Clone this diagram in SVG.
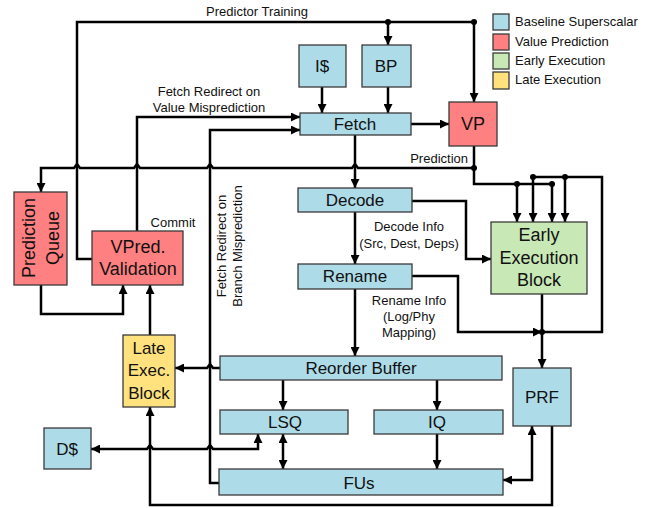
<svg xmlns="http://www.w3.org/2000/svg" width="656" height="508" viewBox="0 0 656 508">
<defs>
<style>
text{font-family:"Liberation Sans",Arial,sans-serif;fill:#111}
.box{stroke:#3a3a3a;stroke-width:1.3}
.base{fill:#ADDBE8}
.vp{fill:#FF8080}
.ee{fill:#C8E8B6}
.le{fill:#FFE27E}
.lbl{font-size:17px;text-anchor:middle;dominant-baseline:central}
.big{font-size:18px;text-anchor:middle;dominant-baseline:central}
.sm{font-size:13px}
.mid{text-anchor:middle}
.wire{fill:none;stroke:#000;stroke-width:2.5}
.dot{fill:#000}
</style>
<marker id="arr" viewBox="0 0 10 10" refX="10" refY="5" markerWidth="11" markerHeight="9" markerUnits="userSpaceOnUse" orient="auto-start-reverse">
<path d="M0,0 L10,5 L0,10 z" fill="#000"/>
</marker>
</defs>
<rect width="656" height="508" fill="#fff"/>

<g id="legend">
<rect class="box base" x="493" y="14" width="16" height="16"/>
<rect class="box vp" x="493" y="34" width="16" height="16"/>
<rect class="box ee" x="493" y="53" width="16" height="16"/>
<rect class="box le" x="493" y="72" width="16" height="17"/>
<text class="sm" x="515" y="26">Baseline Superscalar</text>
<text class="sm" x="515" y="46">Value Prediction</text>
<text class="sm" x="515" y="65">Early Execution</text>
<text class="sm" x="515" y="84">Late Execution</text>
</g>

<g id="connectors">
<!-- predictor training -->
<path class="wire" d="M92,259 H77 V22 H474 V102" marker-end="url(#arr)"/>
<path class="wire" d="M388,22 V45" marker-end="url(#arr)"/>
<path class="wire" d="M322,87 V113" marker-end="url(#arr)"/>
<path class="wire" d="M388,87 V113" marker-end="url(#arr)"/>
<path class="wire" d="M411,124 H449" marker-end="url(#arr)"/>
<!-- prediction bus -->
<path class="wire" d="M474,146 V184 H552"/>
<path class="wire" d="M474,168 H358 L355,164 L352,168 H213 L210,164 L207,168 H140 L137,164 L134,168 H80 L77,164 L74,168 H41 V192" marker-end="url(#arr)"/>
<path class="wire" d="M517,184 V222" marker-end="url(#arr)"/>
<path class="wire" d="M552,184 V222" marker-end="url(#arr)"/>
<path class="wire" d="M533,177 H602 V332 H542"/>
<path class="wire" d="M533,177 V222" marker-end="url(#arr)"/>
<path class="wire" d="M565,177 V222" marker-end="url(#arr)"/>
<!-- fetch redirect value -->
<path class="wire" d="M137,231 V117 H300" marker-end="url(#arr)"/>
<!-- fetch redirect branch -->
<path class="wire" d="M219,483 H210 V130 H300" marker-end="url(#arr)"/>
<!-- pipeline -->
<path class="wire" d="M355,135 V188" marker-end="url(#arr)"/>
<path class="wire" d="M355,212 V264" marker-end="url(#arr)"/>
<path class="wire" d="M355,289 V356" marker-end="url(#arr)"/>
<path class="wire" d="M412,201 H466 V259 H491" marker-end="url(#arr)"/>
<path class="wire" d="M412,276 H458 V332 H542" marker-end="url(#arr)"/>
<path class="wire" d="M542,294 V368" marker-end="url(#arr)"/>
<path class="wire" d="M283,380 V410" marker-end="url(#arr)"/>
<path class="wire" d="M437,380 V410" marker-end="url(#arr)"/>
<path class="wire" d="M437,434 V469" marker-end="url(#arr)"/>
<path class="wire" d="M283,434 V469" marker-start="url(#arr)" marker-end="url(#arr)"/>
<path class="wire" d="M532,426 V480 H503" marker-start="url(#arr)" marker-end="url(#arr)"/>
<!-- ROB to late exec -->
<path class="wire" d="M220,368 H213 L210,364 L207,368 H175" marker-end="url(#arr)"/>
<!-- LSQ to D$ -->
<path class="wire" d="M258,434 V449 H213 L210,445 L207,449 H153 L150,445 L147,449 H91" marker-start="url(#arr)" marker-end="url(#arr)"/>
<!-- PRF to late exec -->
<path class="wire" d="M552,426 V505 H150 V407" marker-end="url(#arr)"/>
<!-- late exec to validation -->
<path class="wire" d="M150,335 V285" marker-end="url(#arr)"/>
<!-- queue to validation -->
<path class="wire" d="M41,285 V314 H123 V285" marker-end="url(#arr)"/>
<circle class="dot" cx="388" cy="22" r="3"/>
<circle class="dot" cx="474" cy="22" r="3"/>
<circle class="dot" cx="474" cy="168" r="3"/>
<circle class="dot" cx="517" cy="184" r="3"/>
<circle class="dot" cx="552" cy="184" r="3"/>
<circle class="dot" cx="533" cy="177" r="3"/>
<circle class="dot" cx="565" cy="177" r="3"/>
<circle class="dot" cx="542" cy="332" r="3"/>
</g>

<g id="labels">
<text class="sm mid" x="257" y="16">Predictor Training</text>
<text class="sm mid" x="209" y="96">Fetch Redirect on</text>
<text class="sm mid" x="209" y="112">Value Misprediction</text>
<text class="sm" x="468" y="163" text-anchor="end">Prediction</text>
<text class="sm mid" x="173" y="227">Commit</text>
<text class="sm mid" x="409" y="231">Decode Info</text>
<text class="sm mid" x="409" y="248">(Src, Dest, Deps)</text>
<text class="sm mid" x="409" y="305">Rename Info</text>
<text class="sm mid" x="409" y="321">(Log/Phy</text>
<text class="sm mid" x="409" y="337">Mapping)</text>
<text class="sm mid" transform="translate(226,246) rotate(-90)">Fetch Redirect on</text>
<text class="sm mid" transform="translate(242,246) rotate(-90)">Branch Misprediction</text>
</g>

<g id="icache"><rect class="box base" x="299" y="45" width="47" height="42"/><text class="lbl" x="322" y="66">I$</text></g>
<g id="bp"><rect class="box base" x="362" y="45" width="49" height="42"/><text class="lbl" x="386" y="66">BP</text></g>
<g id="fetch"><rect class="box base" x="300" y="113" width="111" height="22"/><text class="lbl" x="355" y="124">Fetch</text></g>
<g id="vp"><rect class="box vp" x="449" y="102" width="48" height="44"/><text class="big" x="473" y="124">VP</text></g>
<g id="decode"><rect class="box base" x="298" y="188" width="114" height="24"/><text class="lbl" x="355" y="200">Decode</text></g>
<g id="rename"><rect class="box base" x="298" y="264" width="114" height="25"/><text class="lbl" x="355" y="276">Rename</text></g>
<g id="early"><rect class="box ee" x="491" y="222" width="96" height="72"/>
<text class="big" x="539" y="235">Early</text><text class="big" x="539" y="258">Execution</text><text class="big" x="539" y="280">Block</text></g>
<g id="queue"><rect class="box vp" x="14" y="192" width="53" height="93"/>
<text class="big" transform="translate(29,238) rotate(-90)">Prediction</text>
<text class="big" transform="translate(53,238) rotate(-90)">Queue</text></g>
<g id="validation"><rect class="box vp" x="92" y="231" width="91" height="54"/>
<text class="big" x="138" y="247">VPred.</text><text class="big" x="138" y="269">Validation</text></g>
<g id="late"><rect class="box le" x="123" y="335" width="52" height="72"/>
<text class="lbl" x="149" y="348">Late</text><text class="lbl" x="149" y="370">Exec.</text><text class="lbl" x="149" y="393">Block</text></g>
<g id="rob"><rect class="box base" x="220" y="356" width="282" height="24"/><text class="lbl" x="361" y="368">Reorder Buffer</text></g>
<g id="lsq"><rect class="box base" x="220" y="410" width="128" height="24"/><text class="lbl" x="285" y="422">LSQ</text></g>
<g id="iq"><rect class="box base" x="374" y="410" width="129" height="24"/><text class="lbl" x="437" y="422">IQ</text></g>
<g id="fus"><rect class="box base" x="219" y="469" width="284" height="26"/><text class="lbl" x="359" y="483">FUs</text></g>
<g id="dcache"><rect class="box base" x="44" y="428" width="47" height="41"/><text class="lbl" x="67" y="449">D$</text></g>
<g id="prf"><rect class="box base" x="513" y="368" width="58" height="58"/><text class="lbl" x="542" y="397">PRF</text></g>
</svg>
